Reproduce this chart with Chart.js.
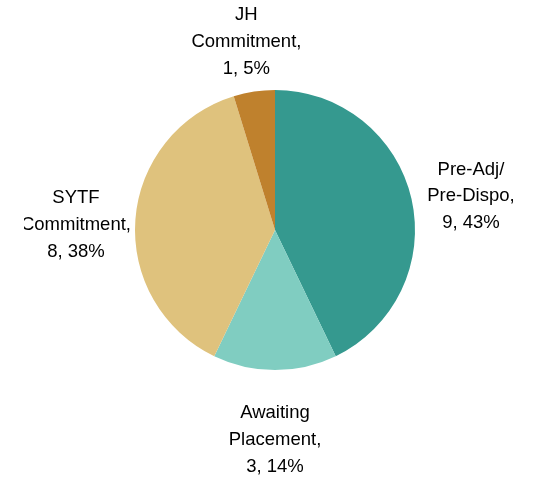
<!DOCTYPE html>
<html>
<head>
<meta charset="utf-8">
<script src="https://cdn.jsdelivr.net/npm/chart.js@4/dist/chart.umd.min.js"></script>
<style>
  html, body { margin: 0; padding: 0; background: #fff; }
  canvas { display: block; }
</style>
</head>
<body>
<canvas id="pie" width="539" height="477"></canvas>
<script>
const categories = [['Pre-Adj/', 'Pre-Dispo,'], ['Awaiting', 'Placement,'], ['SYTF', 'Commitment,'], ['JH', 'Commitment,']];
const counts = [9, 3, 8, 1];
const sliceColors = ['#35998f', '#80cdc1', '#dfc27d', '#bf812d'];

const total = counts.reduce((a, b) => a + b, 0);

// outside labels: "name, count, pct%" stacked on three lines
const outsideLabels = {
  id: 'outsideLabels',
  afterDatasetsDraw(chart, args, opts) {
    const ctx = chart.ctx;
    const meta = chart.getDatasetMeta(0);
    ctx.save();
    ctx.beginPath();
    ctx.rect(24, 0, chart.width - 24, chart.height);
    ctx.clip();
    ctx.font = '18.5px "Liberation Sans", Arial, sans-serif';
    ctx.fillStyle = '#000';
    ctx.textAlign = 'center';
    ctx.textBaseline = 'alphabetic';
    meta.data.forEach((arc, i) => {
      const mid = (arc.startAngle + arc.endAngle) / 2;
      const d = opts.dist[i];
      const cx = arc.x + Math.cos(mid) * d;
      const cy = arc.y + Math.sin(mid) * d + opts.nudge[i];
      const pct = Math.round(counts[i] / total * 100);
      const lines = categories[i].concat([counts[i] + ', ' + pct + '%']);
      lines.forEach((t, j) => {
        ctx.fillText(t, cx, cy + 6.6 + (j - 1) * 26.7);
      });
    });
    ctx.restore();
  }
};

new Chart(document.getElementById('pie').getContext('2d'), {
  type: 'pie',
  data: {
    labels: categories.map(c => c.join(' ')),
    datasets: [{
      data: counts,
      backgroundColor: sliceColors,
      borderWidth: 0
    }]
  },
  options: {
    responsive: false,
    animation: false,
    layout: { padding: { top: 90, bottom: 107, left: 135, right: 124 } },
    plugins: {
      legend: { display: false },
      tooltip: { enabled: false },
      outsideLabels: { dist: [201, 208.3, 199.6, 191.8], nudge: [9.5, 0, 8.5, 0] }
    }
  },
  plugins: [outsideLabels]
});
</script>
</body>
</html>
